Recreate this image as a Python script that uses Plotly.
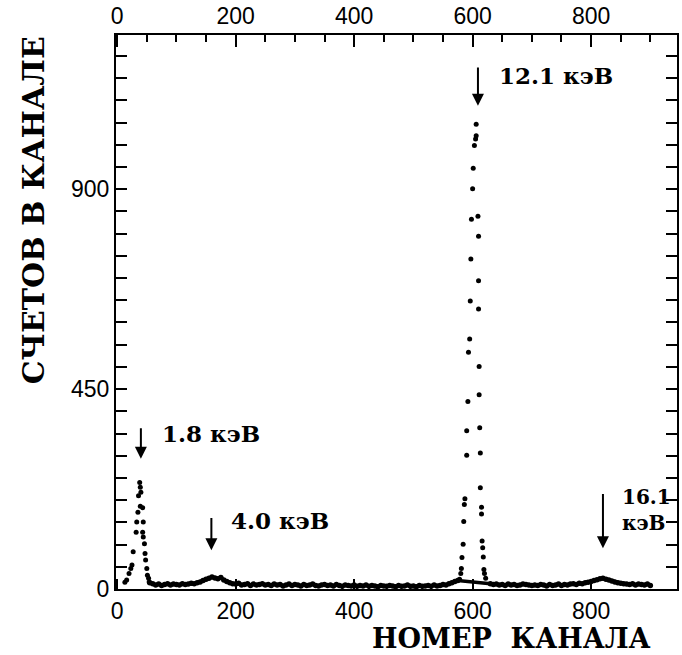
import plotly.graph_objects as go

# ---- data ----
p1_ch = [13, 16, 20, 23, 25, 27, 32, 33, 35, 36, 38, 39, 39, 40, 43, 43, 44, 44, 46, 47, 48, 50, 51, 53, 54]
p1_ct = [15, 20, 35, 46, 54, 84, 128, 151, 173, 210, 240, 229, 186, 218, 183, 128, 151, 117, 102, 80, 65, 46, 31, 24, 16]

p2_ch = [578, 580, 581, 582, 584, 585, 586, 587, 590, 590, 592, 593, 595, 596, 597, 598, 600, 601, 603, 605, 606, 606,
         609, 610, 610, 610, 611, 611, 612, 613, 613, 615, 615, 616, 617, 618, 619, 620, 622]
p2_ct = [22, 35, 46, 71, 101, 152, 190, 203, 301, 356, 422, 533, 563, 648, 743, 832, 901, 947, 998, 1013, 1046, 1020,
         839, 794, 694, 630, 501, 437, 363, 306, 228, 184, 169, 108, 93, 72, 44, 35, 24]

base_ch = list(range(55, 576, 5)) + list(range(630, 901, 5))
base_ct = [14, 12, 9, 11, 8, 10, 12, 9, 11, 10,
           9, 12, 10, 11, 13, 12, 14, 16,
           19, 22, 24, 27, 25, 23, 26, 20, 17,
           14, 12, 11, 13, 9, 10, 12, 8, 11, 9, 10, 12, 9,
           10, 8, 11, 9, 10, 7, 9, 11, 8, 10, 9, 7, 10, 8, 9, 11, 8, 7, 9, 10,
           8, 9, 7, 10, 8, 6, 9, 8, 7, 9, 6, 8, 7, 9, 6, 8, 7, 5, 8, 7,
           6, 8, 7, 5, 8, 6, 7, 9, 6, 7, 5, 8, 6, 7, 8, 6, 9, 7, 8, 10, 9, 12, 14, 17, 19,
           12, 10, 11, 9, 10, 8, 11, 9, 10, 8, 9, 11, 10, 9, 8,
           9, 8, 10, 9, 7, 10, 8, 9, 11, 8, 10, 9, 11, 12, 10, 13, 12, 14, 15,
           17, 19, 21, 23, 24, 22, 20, 18, 16, 14, 13,
           12, 11, 10, 12, 9, 11, 10, 9, 11, 8]

arrows = [(40, 365, 293), (159, 163, 87), (609, 1177, 1088), (820, 217, 92)]
# labels: (text, channel, counts, font size)
labels = [("1.8 кэВ", 73, 351, 23), ("4.0 кэВ", 189, 154, 23), ("12.1 кэВ", 641, 1155, 23),
          ("16.1<br>кэВ", 849, 177, 20)]

X_TITLE = "НОМЕР\u00a0\u00a0КАНАЛА"
Y_TITLE = "СЧЕТОВ В КАНАЛЕ"

XR = [-2, 945]
YR = [0, 1247]

fig = go.Figure()
fig.add_trace(go.Scatter(x=base_ch, y=base_ct, mode="lines+markers",
                         line=dict(color="black", width=3.5),
                         marker=dict(color="black", size=5.5), showlegend=False))
fig.add_trace(go.Scatter(x=p1_ch, y=p1_ct, mode="markers",
                         marker=dict(color="black", size=5), showlegend=False))
fig.add_trace(go.Scatter(x=p2_ch, y=p2_ct, mode="markers",
                         marker=dict(color="black", size=5), showlegend=False))
fig.add_trace(go.Scatter(x=[0], y=[0], xaxis="x2", mode="markers",
                         marker=dict(opacity=0), hoverinfo="skip", showlegend=False))

tickfont = dict(family="Liberation Sans", size=23, color="black")

fig.update_layout(
    width=682, height=655,
    margin=dict(l=116, r=3, t=32, b=66),
    paper_bgcolor="white", plot_bgcolor="white",
    xaxis=dict(range=XR, tickmode="linear", tick0=0, dtick=200, ticks="inside", ticklen=10, tickwidth=2,
               tickcolor="black", showline=True, linecolor="black", linewidth=2,
               showgrid=False, zeroline=False, tickfont=tickfont, layer="above traces"),
    xaxis2=dict(range=XR, overlaying="x", side="top", anchor="y", tickmode="linear", tick0=0, dtick=200,
                ticks="inside", ticklen=12, tickwidth=2, tickcolor="black",
                minor=dict(dtick=50, ticks="inside", ticklen=7, tickwidth=2, tickcolor="black"),
                showline=True, linecolor="black", linewidth=2, showgrid=False, zeroline=False,
                tickfont=tickfont, layer="above traces"),
    yaxis=dict(range=YR, tickmode="linear", tick0=0, dtick=450, ticks="inside", ticklen=11, tickwidth=2,
               tickcolor="black", mirror="allticks",
               minor=dict(dtick=50, ticks="inside", ticklen=7, tickwidth=2, tickcolor="black"),
               showline=True, linecolor="black", linewidth=2, showgrid=False, zeroline=False,
               tickfont=tickfont, layer="above traces"),
)

for ch, tail, tip in arrows:
    fig.add_annotation(x=ch, y=tip, ax=ch, ay=tail, axref="x", ayref="y", xref="x", yref="y",
                       text="", showarrow=True, arrowhead=2, arrowsize=1.2, arrowwidth=2,
                       arrowcolor="black")

for txt, ch, ct, sz in labels:
    fig.add_annotation(x=ch, y=ct, xref="x", yref="y", text="<b>" + txt + "</b>", showarrow=False,
                       xanchor="left", yanchor="middle", align="left",
                       font=dict(family="DejaVu Serif", size=sz, color="black"))

fig.add_annotation(x=(33 - 116) / 563, y=(589 - 208) / 557, xref="paper", yref="paper",
                   text="<b>" + Y_TITLE + "</b>", textangle=-90, showarrow=False,
                   xanchor="center", yanchor="middle",
                   font=dict(family="DejaVu Serif", size=30, color="black"))
fig.add_annotation(x=(513 - 116) / 563, y=(589 - 639) / 557, xref="paper", yref="paper",
                   text="<b>" + X_TITLE + "</b>", showarrow=False,
                   xanchor="center", yanchor="middle",
                   font=dict(family="DejaVu Serif", size=27, color="black"))

fig.write_html("out.html")
